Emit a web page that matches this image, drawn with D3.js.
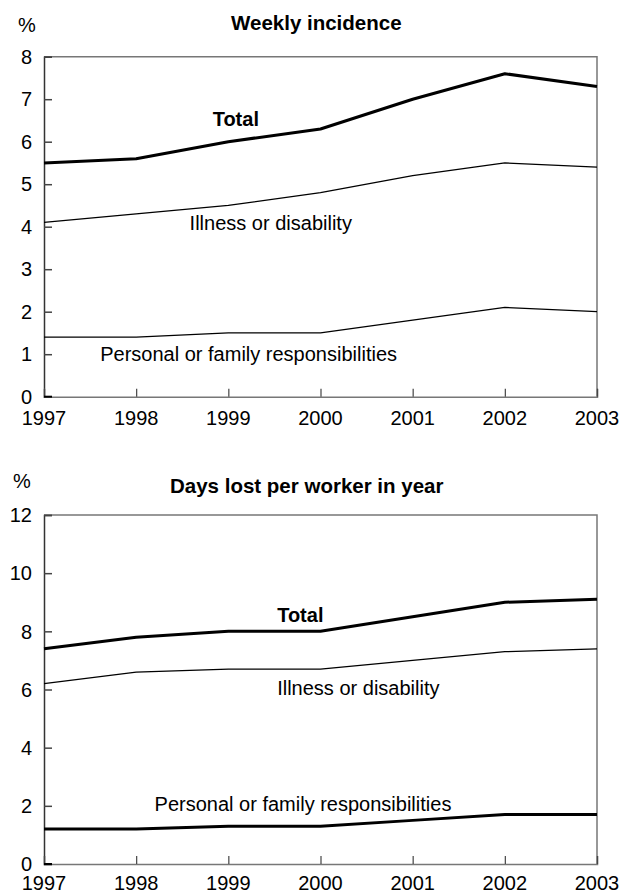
<!DOCTYPE html>
<html>
<head>
<meta charset="utf-8">
<script src="https://cdn.jsdelivr.net/npm/d3@7"></script>
<style>
body { margin: 0; background: #fff; }
text { font-family: "Liberation Sans", Arial, sans-serif; fill: #000; }
</style>
</head>
<body>
<script>
// data
var years = [1997, 1998, 1999, 2000, 2001, 2002, 2003];

var weeklyTotal = [5.5, 5.6, 6.0, 6.3, 7.0, 7.6, 7.3];
var weeklyIllness = [4.1, 4.3, 4.5, 4.8, 5.2, 5.5, 5.4];
var weeklyPersonal = [1.4, 1.4, 1.5, 1.5, 1.8, 2.1, 2.0];

var daysTotal = [7.4, 7.8, 8.0, 8.0, 8.5, 9.0, 9.1];
var daysIllness = [6.2, 6.6, 6.7, 6.7, 7.0, 7.3, 7.4];
var daysPersonal = [1.2, 1.2, 1.3, 1.3, 1.5, 1.7, 1.7];

var weeklyTicks = [0, 1, 2, 3, 4, 5, 6, 7, 8];
var daysTicks = [0, 2, 4, 6, 8, 10, 12];

var seriesNames = ["Total", "Illness or disability", "Personal or family responsibilities"];

var WIDTH = 623;
var HEIGHT = 894;

var svg = d3.select("body")
	.append("svg")
	.attr("width", WIDTH)
	.attr("height", HEIGHT);

var x = d3.scaleLinear().domain([1997, 2003]).range([44, 597]);

// panel setup: label spots are given in data units (year, value)
var panels = [
	{
		title: "Weekly incidence", titleX: 231, titleY: 30, pctX: 18, pctY: 32,
		yMax: 8, top: 56.7, bottom: 396.7, ticks: weeklyTicks, xLabOff: 28,
		series: [weeklyTotal, weeklyIllness, weeklyPersonal],
		widths: [3, 1.2, 1.2],
		labels: [[1998.83, 6.37], [1998.58, 3.92], [1997.61, 0.84]]
	},
	{
		title: "Days lost per worker in year", titleX: 170, titleY: 493, pctX: 13, pctY: 488,
		yMax: 12, top: 515, bottom: 864, ticks: daysTicks, xLabOff: 26,
		series: [daysTotal, daysIllness, daysPersonal],
		widths: [3, 1.2, 3],
		labels: [[1999.53, 8.32], [1999.53, 5.81], [1998.2, 1.82]]
	}
];

panels.forEach(function(p) {
	var y = d3.scaleLinear().domain([0, p.yMax]).range([p.bottom, p.top]);
	var g = svg.append("g");

	// frame (top and right) in grey
	g.append("path")
		.attr("d", "M" + x(1997) + "," + y(p.yMax) + "H" + x(2003) + "V" + y(0))
		.attr("fill", "none")
		.attr("stroke", "#777")
		.attr("stroke-width", 1.5);

	// y axis, ticks pointing inward
	var yAxis = d3.axisRight(y).tickValues(p.ticks).tickSize(8).tickFormat("");
	var ya = g.append("g").attr("transform", "translate(" + x(1997) + ",0)").call(yAxis);
	ya.select(".domain").attr("stroke", "#333").attr("stroke-width", 1.5);
	ya.selectAll(".tick line").attr("stroke", "#444").attr("stroke-width", 1.5);

	g.selectAll(".ylab")
		.data(p.ticks)
		.enter()
		.append("text")
		.attr("x", 32)
		.attr("y", function(d) { return y(d); })
		.attr("dy", "0.36em")
		.attr("text-anchor", "end")
		.style("font-size", "20px")
		.text(function(d) { return d; });

	// x axis, ticks pointing up
	var xAxis = d3.axisTop(x).tickValues(years).tickSize(8).tickFormat("");
	var xa = g.append("g").attr("transform", "translate(0," + y(0) + ")").call(xAxis);
	xa.select(".domain").attr("stroke", "#777").attr("stroke-width", 1.5);
	xa.selectAll(".tick line").attr("stroke", "#444").attr("stroke-width", 1.2);

	g.selectAll(".xlab")
		.data(years)
		.enter()
		.append("text")
		.attr("x", function(d) { return x(d); })
		.attr("y", y(0) + p.xLabOff)
		.attr("text-anchor", "middle")
		.style("font-size", "20px")
		.text(function(d) { return d; });

	// corner mark at 0
	g.append("line")
		.attr("x1", x(1997)).attr("x2", x(1997) + 8)
		.attr("y1", y(0)).attr("y2", y(0))
		.attr("stroke", "#000").attr("stroke-width", 2);

	// lines
	var line = d3.line()
		.x(function(d, i) { return x(years[i]); })
		.y(function(d) { return y(d); });

	p.series.forEach(function(s, i) {
		g.append("path")
			.datum(s)
			.attr("d", line)
			.attr("fill", "none")
			.attr("stroke", "#000")
			.attr("stroke-width", p.widths[i])
			.attr("stroke-linejoin", "round");
	});

	// series labels
	seriesNames.forEach(function(name, i) {
		g.append("text")
			.attr("x", x(p.labels[i][0]))
			.attr("y", y(p.labels[i][1]))
			.style("font-size", "20px")
			.style("font-weight", i === 0 ? "bold" : "normal")
			.text(name);
	});

	// title and unit
	g.append("text")
		.attr("x", p.titleX)
		.attr("y", p.titleY)
		.style("font-size", "20.5px")
		.style("font-weight", "bold")
		.text(p.title);

	g.append("text")
		.attr("x", p.pctX)
		.attr("y", p.pctY)
		.style("font-size", "20px")
		.text("%");
});
</script>
</body>
</html>
